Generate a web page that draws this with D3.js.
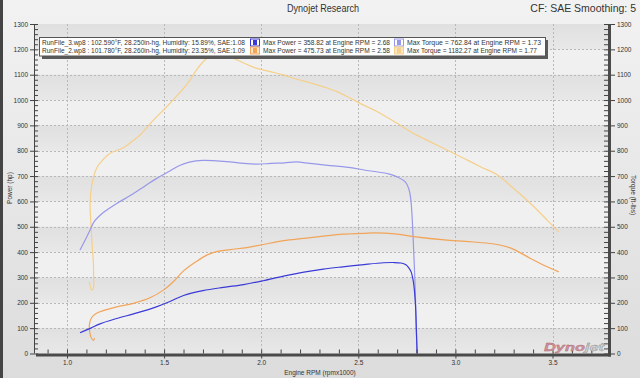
<!DOCTYPE html>
<html>
<head>
<meta charset="utf-8">
<script src="https://cdn.jsdelivr.net/npm/d3@7"></script>
<style>
  body { margin: 0; background: #e4e4e4; }
  text { font-family: "Liberation Sans", Arial, sans-serif; fill: #333; }
</style>
</head>
<body>
<div id="chart"></div>
<script>
// --- data: [rpm x1000, value] ---
const run3Power = [
  [1.067, 82], [1.12, 99], [1.17, 117], [1.256, 138], [1.36, 160], [1.46, 184],
  [1.53, 205], [1.60, 229], [1.70, 248], [1.806, 261], [1.91, 272], [2.01, 287],
  [2.115, 305], [2.22, 321], [2.32, 333], [2.42, 342], [2.53, 351], [2.63, 358],
  [2.68, 359], [2.72, 357], [2.745, 350], [2.76, 338], [2.772, 322], [2.785, 276],
  [2.794, 197], [2.799, 92], [2.803, 0]
];
const run3Torque = [
  [1.067, 408], [1.093, 447], [1.119, 487], [1.14, 520], [1.19, 558], [1.256, 592],
  [1.33, 625], [1.40, 660], [1.46, 690], [1.53, 720], [1.58, 742], [1.63, 755],
  [1.70, 762], [1.77, 760], [1.84, 756], [1.91, 750], [1.98, 747], [2.05, 750],
  [2.12, 752], [2.18, 756], [2.25, 750], [2.32, 744], [2.39, 739], [2.46, 733],
  [2.53, 724], [2.60, 716], [2.66, 708], [2.70, 697], [2.742, 677], [2.76, 650],
  [2.77, 610], [2.777, 539], [2.785, 408], [2.792, 276], [2.797, 145], [2.802, 0]
];
const run2Power = [
  [1.142, 60], [1.136, 52], [1.125, 62], [1.116, 90], [1.117, 122], [1.128, 143],
  [1.15, 158], [1.19, 170], [1.256, 184], [1.342, 198], [1.43, 221], [1.50, 252],
  [1.55, 285], [1.60, 326], [1.668, 364], [1.72, 388], [1.77, 402], [1.84, 410],
  [1.926, 418], [2.01, 430], [2.115, 445], [2.22, 454], [2.32, 463], [2.42, 471],
  [2.527, 474], [2.58, 476], [2.70, 471], [2.785, 461], [2.957, 447], [3.094, 440],
  [3.19, 433], [3.25, 424], [3.30, 411], [3.387, 375], [3.473, 342], [3.532, 322]
];
const run2Torque = [
  [1.115, 283], [1.127, 250], [1.136, 257], [1.137, 302], [1.136, 355], [1.130, 421],
  [1.124, 500], [1.119, 579], [1.122, 630], [1.128, 665], [1.138, 700], [1.155, 735],
  [1.18, 760], [1.222, 790], [1.29, 812], [1.34, 840], [1.376, 862], [1.445, 921],
  [1.514, 974], [1.582, 1030], [1.63, 1075], [1.668, 1120], [1.70, 1150], [1.737, 1174],
  [1.77, 1183], [1.80, 1182], [1.84, 1171], [1.91, 1146], [1.978, 1125], [2.046, 1112],
  [2.115, 1099], [2.184, 1082], [2.253, 1068], [2.321, 1052], [2.39, 1033], [2.459, 1007],
  [2.527, 980], [2.596, 955], [2.70, 908], [2.785, 868], [2.871, 835], [2.957, 803],
  [3.043, 770], [3.129, 737], [3.215, 705], [3.30, 651], [3.387, 592], [3.473, 526],
  [3.532, 480]
];

const powerTicks = [0, 100, 200, 300, 400, 500, 600, 700, 800, 900, 1000, 1100, 1200, 1300];
const rpmTicks = [1.0, 1.5, 2.0, 2.5, 3.0, 3.5];

const legendRuns = [
  "RunFile_3.wp8 : 102.590°F, 28.250in-hg, Humidity: 15.89%, SAE:1.08",
  "RunFile_2.wp8 : 101.780°F, 28.260in-hg, Humidity: 23.35%, SAE:1.09"
];
const legendPower = [
  "Max Power = 358.82 at Engine RPM = 2.68",
  "Max Power = 475.73 at Engine RPM = 2.58"
];
const legendTorque = [
  "Max Torque = 762.84 at Engine RPM = 1.73",
  "Max Torque = 1182.27 at Engine RPM = 1.77"
];

const powerColors = ["#3a3ad8", "#f2a458"];
const torqueColors = ["#9898ea", "#f6cf88"];

// --- canvas ---
const W = 640, H = 378;
const svg = d3.select("#chart").append("svg")
  .attr("width", W)
  .attr("height", H);

const defs = svg.append("defs");
const bg = defs.append("linearGradient").attr("id", "bg").attr("x1", 0).attr("y1", 0).attr("x2", 0).attr("y2", 1);
bg.append("stop").attr("offset", "0%").attr("stop-color", "#f2f2f2");
bg.append("stop").attr("offset", "100%").attr("stop-color", "#dcdcdc");
const band = defs.append("linearGradient").attr("id", "band").attr("x1", 0).attr("y1", 0).attr("x2", 0).attr("y2", 1);
band.append("stop").attr("offset", "0%").attr("stop-color", "#e0e0e0");
band.append("stop").attr("offset", "100%").attr("stop-color", "#e8e8e8");

svg.append("rect").attr("width", W).attr("height", H).attr("fill", "url(#bg)");
svg.append("rect").attr("x", 0).attr("y", 0).attr("width", 3).attr("height", H).attr("fill", "#444");

// plot box
const pLeft = 34, pRight = 609, pTop = 24, pBottom = 353.5;

const x = d3.scaleLinear().domain([1.0, 3.5]).range([67, 552.5]);
const y = d3.scaleLinear().domain([0, 1300]).range([pBottom, pTop]);
const yT = d3.scaleLinear().domain([0, 1300]).range([pBottom, pTop]); // torque, same scale

svg.append("rect")
  .attr("x", pLeft).attr("y", pTop)
  .attr("width", pRight - pLeft).attr("height", pBottom - pTop)
  .attr("fill", "#f0f0f0");

// grey bands every other 100
svg.selectAll(".band")
  .data(powerTicks.filter(d => d % 200 === 0 && d < 1300))
  .enter().append("rect")
  .attr("x", pLeft)
  .attr("y", d => y(d + 100))
  .attr("width", pRight - pLeft)
  .attr("height", d => y(d) - y(d + 100))
  .attr("fill", "url(#band)");

// grid
svg.selectAll(".hgrid")
  .data(powerTicks.slice(1, -1))
  .enter().append("line")
  .attr("x1", pLeft).attr("x2", pRight)
  .attr("y1", d => Math.round(y(d)) + 0.5).attr("y2", d => Math.round(y(d)) + 0.5)
  .attr("stroke", "#b8b8b8").attr("stroke-dasharray", "2,2");
svg.selectAll(".vgrid")
  .data(rpmTicks)
  .enter().append("line")
  .attr("x1", d => Math.round(x(d)) + 0.5).attr("x2", d => Math.round(x(d)) + 0.5)
  .attr("y1", pTop).attr("y2", pBottom)
  .attr("stroke", "#b8b8b8").attr("stroke-dasharray", "2,2");

// curves
const line = d3.line()
  .x(d => x(d[0]))
  .y(d => y(d[1]))
  .curve(d3.curveCatmullRom.alpha(0.5));

const plot = svg.append("g");
[[run2Torque, torqueColors[1]], [run3Torque, torqueColors[0]],
 [run2Power, powerColors[1]], [run3Power, powerColors[0]]].forEach(([s, c]) => {
  plot.append("path")
    .datum(s)
    .attr("fill", "none")
    .attr("stroke", c)
    .attr("stroke-width", 1.2)
    .attr("d", line);
});

// --- axes ---
function styleAxis(g) {
  g.select(".domain").remove();
  g.selectAll("line").attr("stroke", "#444");
  g.selectAll("text").style("font-size", "6.5px").attr("fill", "#333")
    .style("font-family", "Liberation Sans, Arial, sans-serif");
}

// left
svg.append("g").attr("transform", `translate(${pLeft},0)`)
  .call(d3.axisLeft(y).tickValues(powerTicks).tickSize(4).tickPadding(2).tickSizeOuter(0).tickFormat(d3.format("d")))
  .call(styleAxis);
svg.append("g").attr("transform", `translate(${pLeft},0)`)
  .call(d3.axisRight(y).tickValues(d3.range(0, 1301, 20)).tickSize(4).tickFormat("").tickSizeOuter(0))
  .call(styleAxis);
svg.append("line").attr("x1", pLeft + 0.5).attr("x2", pLeft + 0.5).attr("y1", pTop).attr("y2", pBottom)
  .attr("stroke", "#444");

// right (torque)
svg.append("g").attr("transform", `translate(${pRight + 2},0)`)
  .call(d3.axisRight(yT).tickValues(powerTicks).tickSize(4).tickPadding(2).tickSizeOuter(0).tickFormat(d3.format("d")))
  .call(styleAxis);
svg.append("g").attr("transform", `translate(${pRight - 1},0)`)
  .call(d3.axisLeft(yT).tickValues(d3.range(0, 1301, 20)).tickSize(4).tickFormat("").tickSizeOuter(0))
  .call(styleAxis);
svg.append("rect").attr("x", pRight - 1).attr("y", pTop).attr("width", 3).attr("height", pBottom - pTop + 3)
  .attr("fill", "#4a4a4a");

// bottom
svg.append("g").attr("transform", `translate(0,${pBottom + 2})`)
  .call(d3.axisBottom(x).tickValues(rpmTicks).tickSize(3).tickPadding(2).tickFormat(d3.format(".1f")).tickSizeOuter(0))
  .call(styleAxis);
svg.append("g").attr("transform", `translate(0,${pBottom})`)
  .call(d3.axisTop(x).tickValues(d3.range(9, 38).map(d => d / 10)).tickSize(4).tickFormat("").tickSizeOuter(0))
  .call(styleAxis);
svg.append("rect").attr("x", pLeft + 2).attr("y", pBottom).attr("width", pRight - pLeft).attr("height", 3)
  .attr("fill", "#4a4a4a");

// axis titles
svg.append("text")
  .attr("x", 320).attr("y", 375)
  .attr("text-anchor", "middle")
  .style("font-size", "6.5px")
  .text("Engine RPM (rpmx1000)");
svg.append("text")
  .attr("transform", "translate(12,188) rotate(-90)")
  .attr("text-anchor", "middle")
  .style("font-size", "6.5px")
  .text("Power (hp)");
svg.append("text")
  .attr("transform", "translate(631,195) rotate(90)")
  .attr("text-anchor", "middle")
  .style("font-size", "6.5px")
  .text("Torque (ft-lbs)");

// titles
svg.append("text")
  .attr("x", 323).attr("y", 12)
  .attr("text-anchor", "middle")
  .style("font-size", "10px")
  .attr("textLength", 72).attr("lengthAdjust", "spacingAndGlyphs")
  .text("Dynojet Research");
svg.append("text")
  .attr("x", 636).attr("y", 12)
  .attr("text-anchor", "end")
  .style("font-size", "10.5px")
  .text("CF: SAE Smoothing: 5");

// --- legend ---
const lg = svg.append("g");
lg.append("rect").attr("x", 42).attr("y", 40).attr("width", 506).attr("height", 19).attr("fill", "#5a5a5a");
lg.append("rect").attr("x", 39.5).attr("y", 37.5).attr("width", 506).attr("height", 18.5)
  .attr("fill", "#fff").attr("stroke", "#555");

legendRuns.forEach((t, i) => {
  const by = 44.5 + i * 8;
  lg.append("text").attr("x", 42).attr("y", by).style("font-size", "6.3px")
    .attr("textLength", 203).attr("lengthAdjust", "spacingAndGlyphs").text(t);
  [[250, powerColors[i], legendPower[i], 127], [394, torqueColors[i], legendTorque[i], i ? 130 : 134]]
    .forEach(([mx, c, label, len]) => {
      lg.append("rect").attr("x", mx + 0.5).attr("y", by - 6 + 0.5).attr("width", 9).attr("height", 7)
        .attr("fill", i ? "#fde6c8" : "#fff").attr("stroke", c);
      lg.append("rect").attr("x", mx + 3).attr("y", by - 4.5).attr("width", 4).attr("height", 5).attr("fill", c);
      lg.append("text").attr("x", mx + 13).attr("y", by).style("font-size", "6.3px")
        .attr("textLength", len).attr("lengthAdjust", "spacingAndGlyphs").text(label);
    });
});

// logo
const logo = svg.append("text")
  .attr("x", 544).attr("y", 351)
  .style("font-size", "10px").style("font-weight", "bold").style("font-style", "italic")
  .attr("textLength", 60).attr("lengthAdjust", "spacingAndGlyphs");
logo.append("tspan").attr("fill", "#d8909a").attr("stroke", "#a06a72").attr("stroke-width", 0.3).text("Dyno");
logo.append("tspan").attr("fill", "#d0d0d0").attr("stroke", "#888").attr("stroke-width", 0.3).text("jet");
</script>
</body>
</html>
